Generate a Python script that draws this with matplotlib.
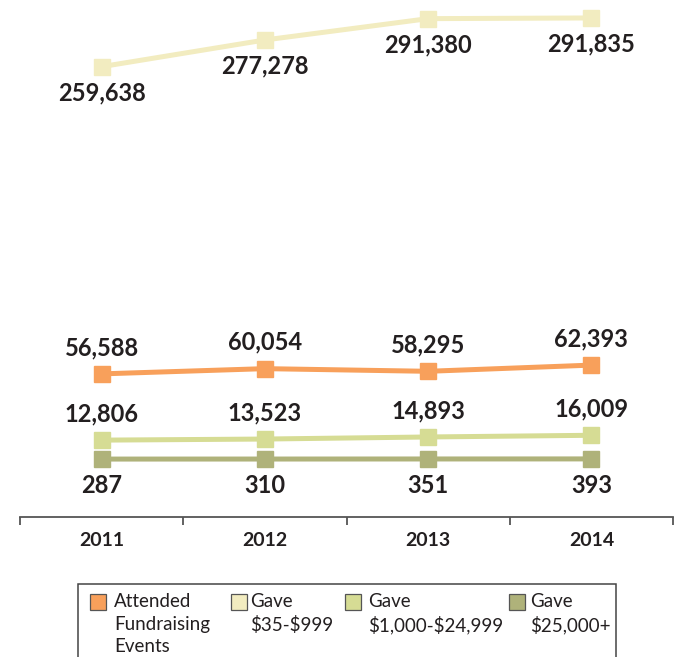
import matplotlib
matplotlib.use("Agg")
import matplotlib.pyplot as plt
from matplotlib.patches import Rectangle

plt.rcParams['font.family'] = ['Lato', 'DejaVu Sans']

years = ['2011', '2012', '2013', '2014']
attended = [56588, 60054, 58295, 62393]
gave_35 = [259638, 277278, 291380, 291835]
gave_1000 = [12806, 13523, 14893, 16009]
gave_25000 = [287, 310, 351, 393]

labels = ['Attended\nFundraising\nEvents', 'Gave\n\\$35-\\$999',
          'Gave\n\\$1,000-\\$24,999', 'Gave\n\\$25,000+']
colors = ['#F8A05B', '#F2ECC0', '#D6DC94', '#AFB27A']
# +1 puts the value label above the point, -1 below
label_side = [1, -1, 1, -1]
series = [attended, gave_35, gave_1000, gave_25000]

W, H = 683, 657
TXT = '#231F20'

fig = plt.figure(figsize=(W / 100, H / 100), dpi=100)
ax = fig.add_axes([20 / W, 1 - 517 / H, 653 / W, 517 / H])

x = range(len(years))
for vals, col, side in zip(series, colors, label_side):
    ax.plot(x, vals, color=col, lw=3.6, marker='s', ms=12.2,
            solid_capstyle='butt', zorder=3)
    for xi, v in zip(x, vals):
        ax.annotate(f'{v:,}', (xi, v), xytext=(0, 19 * side),
                    textcoords='offset points', ha='center', va='center',
                    fontsize=17, fontweight='bold', color=TXT)

ax.set_xlim(-0.5, 3.5)
ax.set_ylim(-38000, 303700)
ax.set_yticks([])
for s in ['top', 'left', 'right']:
    ax.spines[s].set_visible(False)
ax.spines['bottom'].set_color('#555555')
ax.spines['bottom'].set_linewidth(1.3)

ax.set_xticks(list(x))
ax.set_xticklabels(years, fontsize=14, fontweight='bold', color=TXT)
ax.tick_params(axis='x', which='major', length=0, pad=11)
ax.set_xticks([-0.5, 0.5, 1.5, 2.5, 3.5], minor=True)
ax.tick_params(axis='x', which='minor', length=6, width=1.3,
               color='#555555', direction='out')

# legend box, open at the bottom of the figure
fig.patches.append(Rectangle((78 / W, 1 - 700 / H), (616 - 78) / W, 116 / H,
                             transform=fig.transFigure, fill=False,
                             edgecolor='#444444', lw=1.1))
mark_x = [90, 231, 345, 509]
text_x = [114, 250, 368, 530]
for mx, tx, lab, col in zip(mark_x, text_x, labels, colors):
    fig.patches.append(Rectangle((mx / W, 1 - 610 / H), 16 / W, 16 / H,
                                 transform=fig.transFigure, facecolor=col,
                                 edgecolor='#555555', lw=0.9))
    fig.text(tx / W, 1 - 593 / H, lab, ha='left', va='top',
             fontsize=13.5, color=TXT, linespacing=1.4)

fig.savefig('out.png', dpi=100)
